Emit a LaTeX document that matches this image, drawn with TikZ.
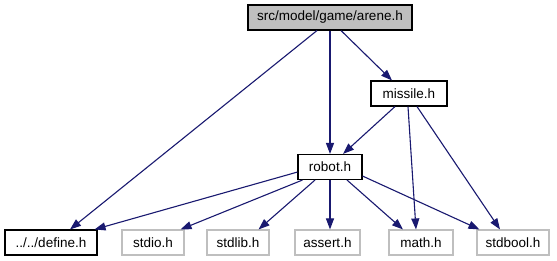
\documentclass[tikz,border=0pt]{standalone}
\usepackage{fontspec}
\setmainfont{Liberation Sans}
\usetikzlibrary{arrows.meta}
\definecolor{edgeblue}{HTML}{191970}
\definecolor{boxgrey}{HTML}{BFBFBF}
\begin{document}
\begin{tikzpicture}[x=1pt,y=-1pt,
  hdr/.style={draw=black,line width=1.1pt,inner sep=0pt,minimum height=25pt,
    font=\fontsize{13.5}{16}\selectfont},
  curfile/.style={hdr,fill=boxgrey},
  sysfile/.style={hdr,draw=boxgrey},
  incl/.style={draw=edgeblue,line width=1.1pt,-{Triangle[length=11pt,width=8pt,fill=edgeblue]}}]
\useasboundingbox[fill=white] (0,0) rectangle (557,261);

% header nodes
\node[curfile,minimum width=164pt] (arene) at (330,17.5) {src/model/game/arene.h};
\node[hdr,minimum width=76pt] (missile) at (409,93.5) {missile.h};
\node[hdr,minimum width=64pt] (robot) at (330,167) {robot.h};
\node[hdr,minimum width=92pt] (define) at (51,242.5) {../../define.h};
\node[sysfile,minimum width=62pt] (stdio) at (153,242.5) {stdio.h};
\node[sysfile,minimum width=62pt] (stdlib) at (238,242.5) {stdlib.h};
\node[sysfile,minimum width=65pt] (assert) at (327.5,242.5) {assert.h};
\node[sysfile,minimum width=64pt] (math) at (421,242.5) {math.h};
\node[sysfile,minimum width=72pt] (stdbool) at (513,242.5) {stdbool.h};

% includes of arene.h
\draw[incl] ([xshift=-13pt]arene.south) -- ([xshift=19pt]define.north);
\draw[incl] (arene.south) -- (robot.north);
\draw[incl] ([xshift=11pt]arene.south) -- ([xshift=-17pt]missile.north);

% includes of missile.h
\draw[incl] ([xshift=-14pt]missile.south) -- ([xshift=13pt]robot.north);
\draw[incl] ([xshift=-1pt]missile.south) -- ([xshift=-5pt]math.north);
\draw[incl] ([xshift=8pt]missile.south) -- ([xshift=-13pt]stdbool.north);

% includes of robot.h
\draw[incl] ([yshift=8pt]robot.south west) -- ([xshift=-3pt]define.north east);
\draw[incl] ([xshift=5pt]robot.south west) -- ([xshift=-4pt]stdio.north east);
\draw[incl] ([xshift=-15pt]robot.south) -- ([xshift=-11pt]stdlib.north east);
\draw[incl] (robot.south) -- (robot.south |- assert.north);
\draw[incl] ([xshift=17pt]robot.south) -- ([xshift=-18pt]math.north);
\draw[incl] ([yshift=4pt]robot.south east) -- ([xshift=3pt]stdbool.north west);
\end{tikzpicture}
\end{document}
